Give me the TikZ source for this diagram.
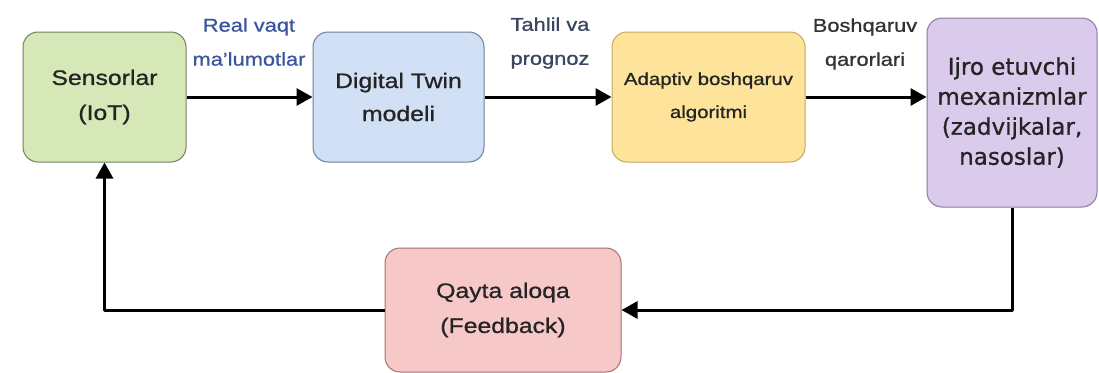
\documentclass[tikz,border=0pt]{standalone}
\usepackage{fontspec}
\setmainfont{Liberation Sans}[FakeStretch=1.18,FakeBold=0.9]
\newfontfamily\ijrofont{DejaVu Sans}[FakeBold=0.9]
\usetikzlibrary{arrows.meta}
\definecolor{gfill}{HTML}{D6E8B8}\definecolor{gdraw}{HTML}{72825F}
\definecolor{bfill}{HTML}{D2E0F5}\definecolor{bdraw}{HTML}{6B7FA0}
\definecolor{yfill}{HTML}{FEE49A}\definecolor{ydraw}{HTML}{C8A860}
\definecolor{pfill}{HTML}{DACAEC}\definecolor{pdraw}{HTML}{8A78A6}
\definecolor{rfill}{HTML}{F7C8C8}\definecolor{rdraw}{HTML}{A87070}
\definecolor{txt}{HTML}{242424}
\definecolor{lblue}{HTML}{3A56A0}
\definecolor{lslate}{HTML}{3A4560}
\definecolor{lgray}{HTML}{333333}
\begin{document}
\begin{tikzpicture}[x=1pt,y=-1pt,
  box/.style={draw, line width=1pt, rounded corners=15pt, align=center, text=txt, inner sep=0pt},
  lbl/.style={align=center, font=\fontsize{18.5}{34}\selectfont},
  flow/.style={line width=3pt, -{Triangle[length=16pt,width=17pt]}, line join=round}]
\useasboundingbox (0,0) rectangle (1099,372);
\fill[white] (0,0) rectangle (1099,372);
\node[box, fill=gfill, draw=gdraw, minimum width=163pt, minimum height=130pt,
  font=\fontsize{21}{35}\selectfont] (sens) at (104.5,97) {Sensorlar\\(IoT)};
\node[box, fill=bfill, draw=bdraw, minimum width=171pt, minimum height=130pt,
  font=\fontsize{21}{33}\selectfont] (dt) at (398.5,97) {Digital Twin\\modeli};
\node[box, fill=yfill, draw=ydraw, minimum width=193pt, minimum height=130pt,
  font=\fontsize{17.3}{33}\selectfont] (ad) at (708.5,97) {Adaptiv boshqaruv\\algoritmi};
\node[box, fill=pfill, draw=pdraw, minimum width=170pt, minimum height=189pt,
  font=\ijrofont\fontsize{23}{30}\selectfont] (ijro) at (1012,112.5) {Ijro etuvchi\\mexanizmlar\\(zadvijkalar,\\nasoslar)};
\node[box, fill=rfill, draw=rdraw, minimum width=236pt, minimum height=124pt,
  font=\fontsize{21}{35}\selectfont] (fb) at (503,310) {Qayta aloqa\\(Feedback)};
\draw[flow] (sens) -- (dt);
\draw[flow] (dt) -- (ad);
\draw[flow] (ad) -- (ad -| ijro.west);
\draw[flow] (ijro.south) |- (fb.east);
\draw[flow] (fb.west) -| (sens.south);
\node[lbl, text=lblue] (l1) at (249,42) {Real vaqt\\ma'lumotlar};
\node[lbl, text=lslate] (l2) at (550,43) {Tahlil va\\prognoz};
\node[lbl, text=lgray] (l3) at (865,44) {Boshqaruv\\qarorlari};
\end{tikzpicture}
\end{document}
